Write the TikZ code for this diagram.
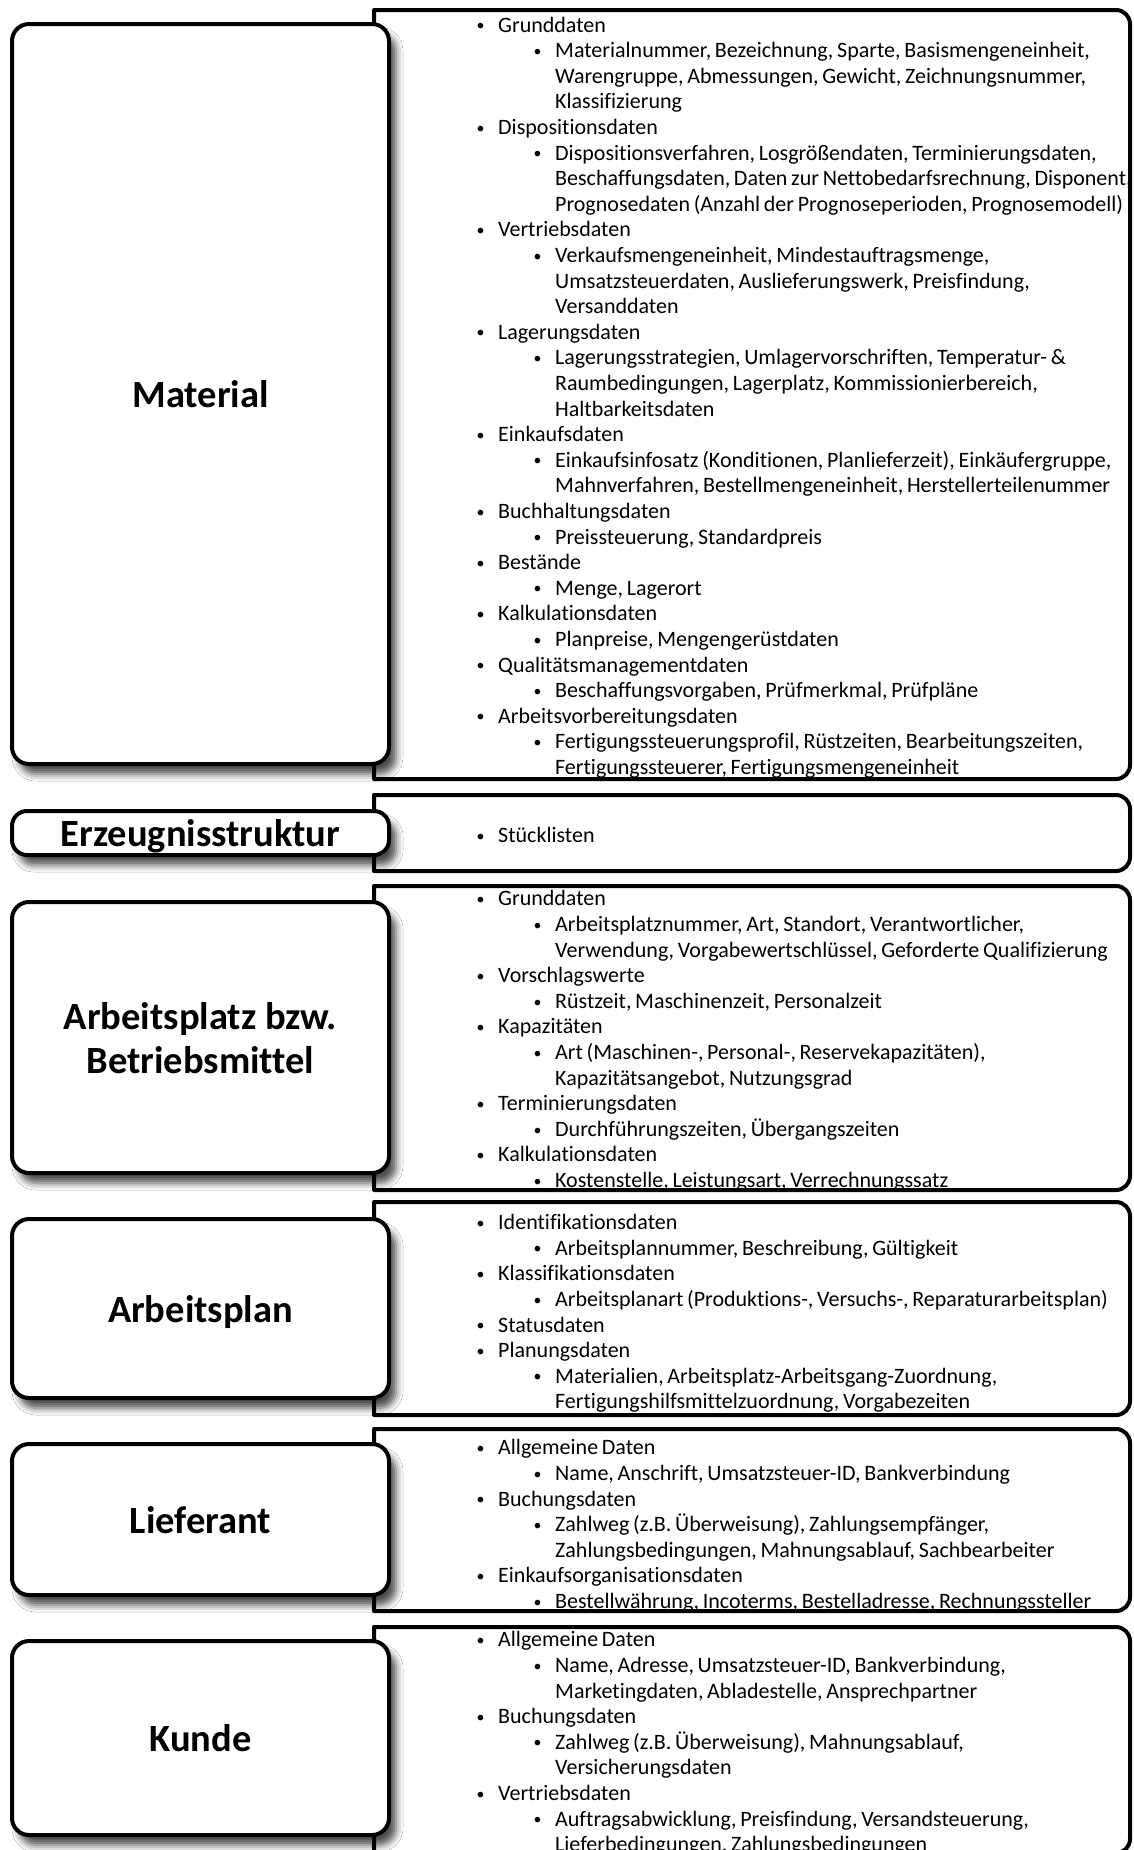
\documentclass[tikz,border=0pt]{standalone}
\usepackage{fontspec}
\setmainfont{Carlito}[Ligatures=NoCommon]
\newfontfamily\listfont{Carlito}[Ligatures=NoCommon, WordSpace=0.75]
\usetikzlibrary{shadows.blur}

% small list bullet
\newcommand\bul{\hspace*{1.5pt}\raisebox{0.06em}{\scalebox{0.72}{\textbullet}}}
% bullet list lines: level one, level two, level-two continuation
\newcommand\LA[1]{\makebox[23pt][l]{\bul}#1}
\newcommand\LB[1]{\hspace*{57pt}\makebox[23pt][l]{\bul}#1}
\newcommand\LC[1]{\hspace*{80pt}#1}

% frame of a detail panel: square on the left, rounded on the right
\newcommand\panelframe[2]{%
  \draw[panel] (374,#1) -- (1116,#1) arc[start angle=-90,end angle=0,radius=14]
    -- (1130,#2-14) arc[start angle=0,end angle=90,radius=14] -- (374,#2) -- cycle;}

\tikzset{
  titlebox/.style={draw, line width=4pt, fill=white, rounded corners=17pt,
    inner sep=0pt, align=center, minimum width=377pt, text depth=0pt,
    font=\fontsize{38.5}{44}\selectfont\bfseries,
    blur shadow={shadow xshift=7pt, shadow yshift=-10pt,
      shadow blur radius=7pt, shadow opacity=70}},
  panel/.style={line width=4pt, line join=round},
  listtext/.style={anchor=west, inner sep=0pt, align=left,
    font=\listfont\fontsize{22}{25.6}\selectfont},
}

\begin{document}
\begin{tikzpicture}[x=1pt, y=-1pt]
\useasboundingbox[fill=white] (0,0) rectangle (1134,1850);

% ---------- detail lists ----------
\node[listtext] (matlist) at (475,397.5) {%
\LA{Grunddaten}\\
\LB{Materialnummer, Bezeichnung, Sparte, Basismengeneinheit,}\\
\LC{Warengruppe, Abmessungen, Gewicht, Zeichnungsnummer,}\\
\LC{Klassifizierung}\\
\LA{Dispositionsdaten}\\
\LB{Dispositionsverfahren, Losgrößendaten, Terminierungsdaten,}\\
\LC{Beschaffungsdaten, Daten zur Nettobedarfsrechnung, Disponent,}\\
\LC{Prognosedaten (Anzahl der Prognoseperioden, Prognosemodell)}\\
\LA{Vertriebsdaten}\\
\LB{Verkaufsmengeneinheit, Mindestauftragsmenge,}\\
\LC{Umsatzsteuerdaten, Auslieferungswerk, Preisfindung,}\\
\LC{Versanddaten}\\
\LA{Lagerungsdaten}\\
\LB{Lagerungsstrategien, Umlagervorschriften, Temperatur- \&}\\
\LC{Raumbedingungen, Lagerplatz, Kommissionierbereich,}\\
\LC{Haltbarkeitsdaten}\\
\LA{Einkaufsdaten}\\
\LB{Einkaufsinfosatz (Konditionen, Planlieferzeit), Einkäufergruppe,}\\
\LC{Mahnverfahren, Bestellmengeneinheit, Herstellerteilenummer}\\
\LA{Buchhaltungsdaten}\\
\LB{Preissteuerung, Standardpreis}\\
\LA{Bestände}\\
\LB{Menge, Lagerort}\\
\LA{Kalkulationsdaten}\\
\LB{Planpreise, Mengengerüstdaten}\\
\LA{Qualitätsmanagementdaten}\\
\LB{Beschaffungsvorgaben, Prüfmerkmal, Prüfpläne}\\
\LA{Arbeitsvorbereitungsdaten}\\
\LB{Fertigungssteuerungsprofil, Rüstzeiten, Bearbeitungszeiten,}\\
\LC{Fertigungssteuerer, Fertigungsmengeneinheit}};

\node[listtext] (strlist) at (475,835) {\LA{Stücklisten}};

\node[listtext] (aplist) at (475,1041) {%
\LA{Grunddaten}\\
\LB{Arbeitsplatznummer, Art, Standort, Verantwortlicher,}\\
\LC{Verwendung, Vorgabewertschlüssel, Geforderte Qualifizierung}\\
\LA{Vorschlagswerte}\\
\LB{Rüstzeit, Maschinenzeit, Personalzeit}\\
\LA{Kapazitäten}\\
\LB{Art (Maschinen-, Personal-, Reservekapazitäten),}\\
\LC{Kapazitätsangebot, Nutzungsgrad}\\
\LA{Terminierungsdaten}\\
\LB{Durchführungszeiten, Übergangszeiten}\\
\LA{Kalkulationsdaten}\\
\LB{Kostenstelle, Leistungsart, Verrechnungssatz}};

\node[listtext] (pllist) at (475,1313.5) {%
\LA{Identifikationsdaten}\\
\LB{Arbeitsplannummer, Beschreibung, Gültigkeit}\\
\LA{Klassifikationsdaten}\\
\LB{Arbeitsplanart (Produktions-, Versuchs-, Reparaturarbeitsplan)}\\
\LA{Statusdaten}\\
\LA{Planungsdaten}\\
\LB{Materialien, Arbeitsplatz-Arbeitsgang-Zuordnung,}\\
\LC{Fertigungshilfsmittelzuordnung, Vorgabezeiten}};

\node[listtext] (lflist) at (475,1526) {%
\LA{Allgemeine Daten}\\
\LB{Name, Anschrift, Umsatzsteuer-ID, Bankverbindung}\\
\LA{Buchungsdaten}\\
\LB{Zahlweg (z.B. Überweisung), Zahlungsempfänger,}\\
\LC{Zahlungsbedingungen, Mahnungsablauf, Sachbearbeiter}\\
\LA{Einkaufsorganisationsdaten}\\
\LB{Bestellwährung, Incoterms, Bestelladresse, Rechnungssteller}};

\node[listtext] (kdlist) at (475,1743.5) {%
\LA{Allgemeine Daten}\\
\LB{Name, Adresse, Umsatzsteuer-ID, Bankverbindung,}\\
\LC{Marketingdaten, Abladestelle, Ansprechpartner}\\
\LA{Buchungsdaten}\\
\LB{Zahlweg (z.B. Überweisung), Mahnungsablauf,}\\
\LC{Versicherungsdaten}\\
\LA{Vertriebsdaten}\\
\LB{Auftragsabwicklung, Preisfindung, Versandsteuerung,}\\
\LC{Lieferbedingungen, Zahlungsbedingungen}};

% ---------- panel frames ----------
\panelframe{10}{779}
\panelframe{795}{871}
\panelframe{886}{1190}
\panelframe{1202}{1415}
\panelframe{1429}{1611}
\panelframe{1627}{1853}

% ---------- entity boxes ----------
\node[titlebox, minimum height=740pt] (material) at (200.5,394) {Material};
\node[titlebox, minimum height=44pt, rounded corners=15pt] (struktur) at (200.5,833) {Erzeugnisstruktur};
\node[titlebox, minimum height=271pt] (arbeitsplatz) at (200.5,1037.5) {Arbeitsplatz bzw.\\Betriebsmittel};
\node[titlebox, minimum height=179pt] (arbeitsplan) at (200.5,1308.5) {Arbeitsplan};
\node[titlebox, minimum height=151pt] (lieferant) at (200.5,1519.5) {Lieferant};
\node[titlebox, minimum height=194pt] (kunde) at (200.5,1738) {Kunde};
\end{tikzpicture}
\end{document}
